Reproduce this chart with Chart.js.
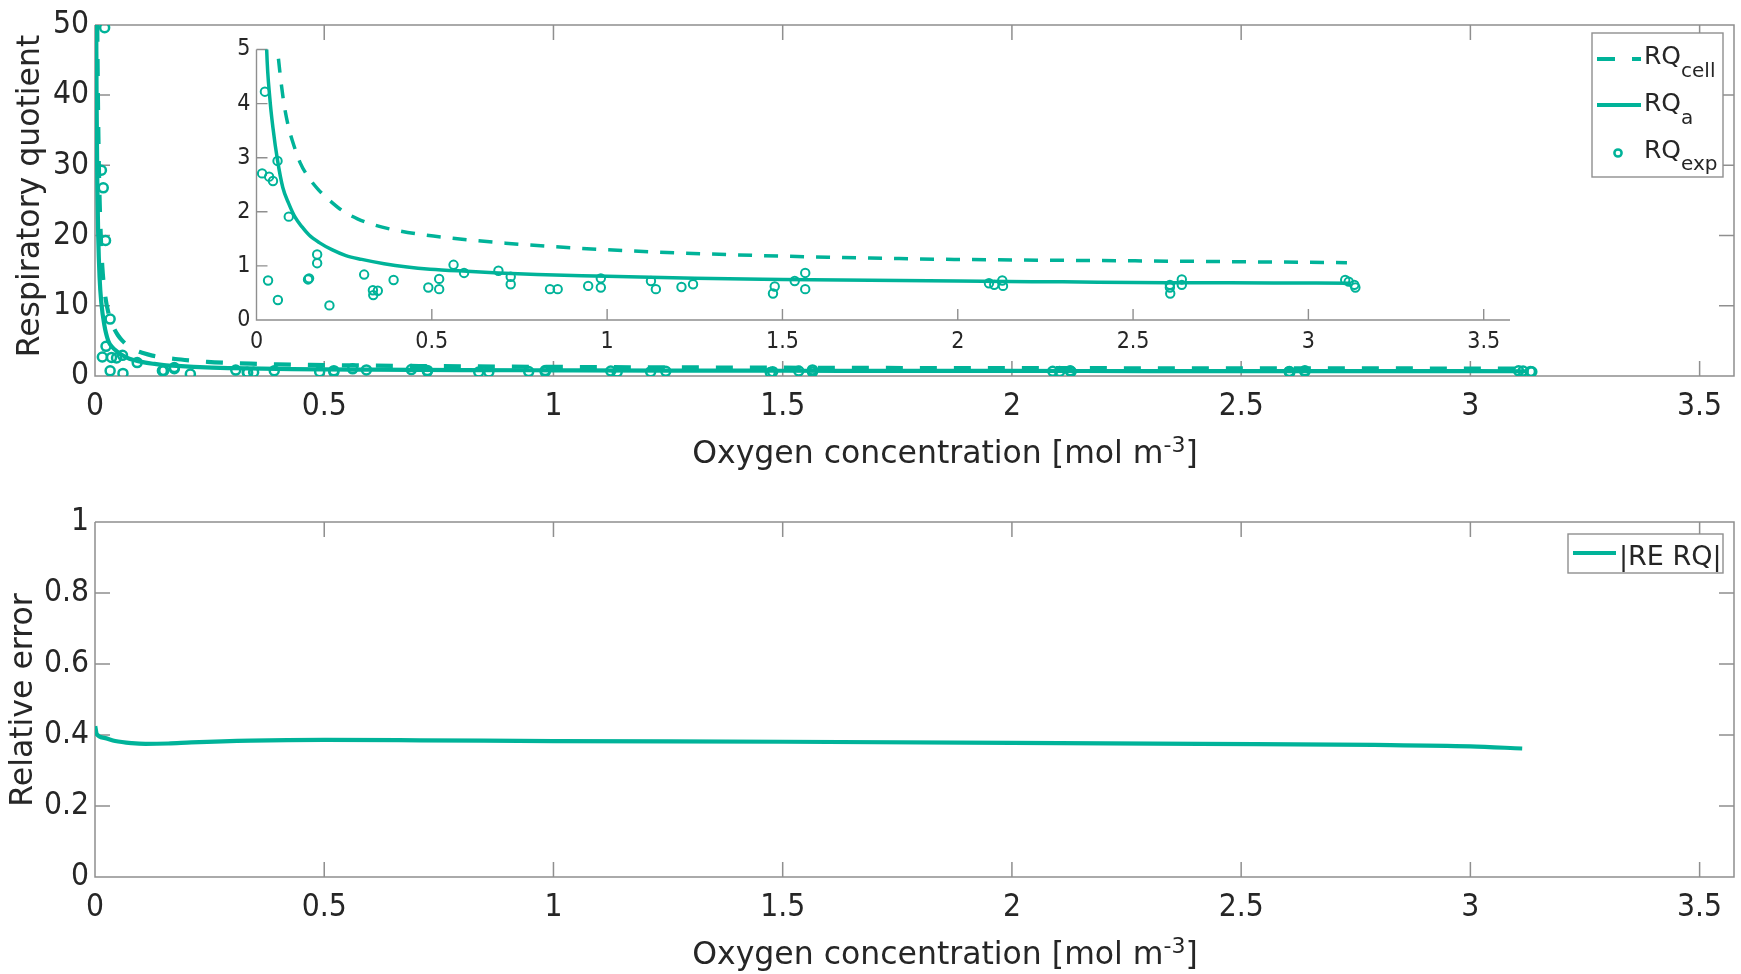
<!DOCTYPE html>
<html><head><meta charset="utf-8">
<script src="https://cdn.jsdelivr.net/npm/chart.js@4.4.1/dist/chart.umd.min.js"></script>
<style>
html,body{margin:0;padding:0;background:#fff;}
body{width:1741px;height:974px;position:relative;overflow:hidden;}
.box{position:absolute;}
</style></head><body>
<div class="box" style="left:0;top:0;width:1741px;height:484px"><canvas id="topChart"></canvas></div>
<div class="box" style="left:150px;top:20px;width:1400px;height:345px"><canvas id="insetChart"></canvas></div>
<div class="box" style="left:0;top:490px;width:1741px;height:484px"><canvas id="bottomChart"></canvas></div>
<script>
// ---------- data ----------
const xTickValues = [0, 0.5, 1, 1.5, 2, 2.5, 3, 3.5];
const topYTickValues = [0, 10, 20, 30, 40, 50];
const insetYTickValues = [0, 1, 2, 3, 4, 5];
const bottomYTickValues = [0, 0.2, 0.4, 0.6, 0.8, 1];

// RQ_cell (dashed model curve)
const rqCellX = [0.0049, 0.006, 0.007, 0.009, 0.012, 0.016, 0.022, 0.03, 0.04, 0.05, 0.06, 0.076, 0.09, 0.103, 0.125, 0.147, 0.175, 0.207, 0.245, 0.288, 0.34, 0.397, 0.47, 0.56, 0.71, 0.91, 1.125, 1.34, 1.63, 1.99, 2.37, 2.75, 3.11];
const rqCellY = [50, 42, 36, 28, 21, 15.5, 11.5, 8.8, 7.0, 5.8, 5.0, 4.1, 3.6, 3.3, 2.9, 2.65, 2.42, 2.22, 2.02, 1.87, 1.75, 1.66, 1.58, 1.51, 1.42, 1.33, 1.26, 1.21, 1.16, 1.12, 1.10, 1.08, 1.06];

// RQ_a (solid model curve)
const rqAX = [0.0027, 0.0035, 0.005, 0.007, 0.01, 0.014, 0.02, 0.029, 0.038, 0.047, 0.06, 0.075, 0.092, 0.11, 0.13, 0.15, 0.179, 0.215, 0.255, 0.3, 0.364, 0.43, 0.495, 0.6, 0.69, 0.8, 1.0, 1.25, 1.5, 1.75, 2.0, 2.3, 2.6, 2.9, 3.12];
const rqAY = [50, 39, 27.7, 20, 14, 10.3, 7.4, 5.0, 4.1, 3.55, 2.95, 2.45, 2.15, 1.9, 1.72, 1.57, 1.43, 1.3, 1.19, 1.12, 1.04, 0.98, 0.94, 0.9, 0.87, 0.84, 0.81, 0.77, 0.75, 0.735, 0.72, 0.705, 0.69, 0.685, 0.68];

// RQ_exp (measured points)
const rqExpX = [0.021, 0.014, 0.018, 0.023, 0.033, 0.024, 0.016, 0.036, 0.047, 0.060, 0.033, 0.061, 0.092, 0.147, 0.150, 0.173, 0.173, 0.208, 0.307, 0.332, 0.333, 0.346, 0.391, 0.490, 0.521, 0.521, 0.562, 0.592, 0.690, 0.725, 0.725, 0.837, 0.859, 0.946, 0.982, 0.982, 1.125, 1.139, 1.212, 1.245, 1.473, 1.478, 1.535, 1.565, 1.565, 2.089, 2.104, 2.127, 2.129, 2.605, 2.606, 2.605, 2.639, 2.639, 3.105, 3.115, 3.131, 3.134];
const rqExpY = [49.6, 29.3, 26.8, 19.3, 8.1, 4.22, 2.71, 2.65, 2.57, 2.94, 0.73, 0.37, 1.91, 0.75, 0.77, 1.21, 1.05, 0.27, 0.84, 0.55, 0.46, 0.54, 0.74, 0.60, 0.76, 0.57, 1.02, 0.87, 0.91, 0.80, 0.66, 0.57, 0.57, 0.63, 0.77, 0.60, 0.72, 0.57, 0.61, 0.66, 0.49, 0.62, 0.72, 0.87, 0.57, 0.68, 0.65, 0.73, 0.63, 0.65, 0.49, 0.60, 0.75, 0.65, 0.74, 0.71, 0.65, 0.60];

// |RE RQ| (relative error)
const reX = [0.0005, 0.004, 0.02, 0.044, 0.08, 0.11, 0.16, 0.21, 0.34, 0.5, 0.71, 1.0, 1.5, 2.0, 2.41, 2.79, 3.0, 3.113];
const reY = [0.425, 0.402, 0.392, 0.383, 0.377, 0.375, 0.376, 0.379, 0.384, 0.386, 0.385, 0.383, 0.381, 0.378, 0.375, 0.372, 0.368, 0.362];

// text
const xTitleMain = 'Oxygen concentration [mol m';
const xTitleSup = '-3';
const xTitleEnd = ']';
const topYTitle = 'Respiratory quotient';
const bottomYTitle = 'Relative error';
const topLegendLabels = [['RQ', 'cell'], ['RQ', 'a'], ['RQ', 'exp']];
const bottomLegendLabel = '|RE RQ|';

// ---------- styling ----------
const TEAL = '#00B399';
const AXC = '#8f8f8f';
const TXT = '#262626';
const FONT = "'DejaVu Sans', sans-serif";
const TICKFONT = "'DejaVu Sans Condensed', 'DejaVu Sans', sans-serif";

function pts(xs, ys) { return xs.map((x, i) => ({x: x, y: ys[i]})); }
function fmt(v) { return String(+(+v).toFixed(3)); }

function drawRich(ctx, spec) {
  ctx.save();
  ctx.fillStyle = spec.color || TXT;
  ctx.textBaseline = 'alphabetic';
  ctx.textAlign = 'left';
  let w = 0;
  const widths = spec.parts.map(p => {
    ctx.font = p.size + 'px ' + (spec.family || FONT);
    const m = ctx.measureText(p.t).width;
    w += m;
    return m;
  });
  ctx.translate(spec.x, spec.y);
  if (spec.rotate) ctx.rotate(-Math.PI / 2);
  let x = spec.align === 'center' ? -w / 2 : 0;
  spec.parts.forEach((p, i) => {
    ctx.font = p.size + 'px ' + (spec.family || FONT);
    ctx.fillText(p.t, x, p.dy || 0);
    x += widths[i];
  });
  ctx.restore();
}

function drawLegend(ctx, L) {
  ctx.save();
  ctx.fillStyle = '#fff';
  ctx.fillRect(L.x, L.y, L.w, L.h);
  ctx.strokeStyle = AXC;
  ctx.lineWidth = 1.4;
  ctx.strokeRect(L.x, L.y, L.w, L.h);
  L.items.forEach(it => {
    ctx.strokeStyle = TEAL;
    ctx.lineCap = 'butt';
    if (it.kind === 'line') {
      ctx.lineWidth = it.lw;
      ctx.setLineDash(it.dash || []);
      ctx.beginPath(); ctx.moveTo(it.x0, it.y); ctx.lineTo(it.x1, it.y); ctx.stroke();
      ctx.setLineDash([]);
    } else {
      ctx.lineWidth = 2.5;
      ctx.beginPath(); ctx.arc(it.cx, it.y, it.r, 0, Math.PI * 2); ctx.stroke();
    }
    drawRich(ctx, it.text);
  });
  ctx.restore();
}

function makeFrame(name, full, len, lw) {
  return {
    id: 'frame' + name,
    beforeDatasetsDraw(chart) {
      const ctx = chart.ctx, a = chart.chartArea, sx = chart.scales.x, sy = chart.scales.y;
      ctx.save();
      ctx.strokeStyle = AXC;
      ctx.lineWidth = lw;
      ctx.beginPath();
      ctx.moveTo(a.left, a.top); ctx.lineTo(a.left, a.bottom); ctx.lineTo(a.right, a.bottom);
      if (full) { ctx.lineTo(a.right, a.top); ctx.lineTo(a.left, a.top); }
      sx.ticks.forEach(t => {
        const p = sx.getPixelForValue(t.value);
        ctx.moveTo(p, a.bottom); ctx.lineTo(p, a.bottom - len);
        if (full) { ctx.moveTo(p, a.top); ctx.lineTo(p, a.top + len); }
      });
      sy.ticks.forEach(t => {
        const p = sy.getPixelForValue(t.value);
        ctx.moveTo(a.left, p); ctx.lineTo(a.left + len, p);
        if (full) { ctx.moveTo(a.right, p); ctx.lineTo(a.right - len, p); }
      });
      ctx.stroke();
      ctx.restore();
    }
  };
}

function makeDecor(name, draws) {
  return { id: 'decor' + name, afterDraw(chart) { draws(chart.ctx); } };
}

function axes(xmin, xmax, ymin, ymax, xTicks, yTicks, xH, yW, fontSize, xPad, yPad) {
  const tickFont = {family: TICKFONT, size: fontSize, lineHeight: 1.2};
  return {
    x: {
      type: 'linear', min: xmin, max: xmax, bounds: 'data',
      afterBuildTicks: s => { s.ticks = xTicks.map(v => ({value: v})); },
      afterFit: s => { s.height = xH; },
      grid: {display: false, drawTicks: false}, border: {display: false},
      ticks: {padding: xPad, font: tickFont, color: TXT, callback: fmt, autoSkip: false, maxRotation: 0}
    },
    y: {
      type: 'linear', min: ymin, max: ymax, bounds: 'data',
      afterBuildTicks: s => { s.ticks = yTicks.map(v => ({value: v})); },
      afterFit: s => { s.width = yW; },
      grid: {display: false, drawTicks: false}, border: {display: false},
      ticks: {padding: yPad, font: tickFont, color: TXT, callback: fmt, autoSkip: false}
    }
  };
}

function rqDatasets(dashMain, lw, r, rb) {
  return [
    {label: 'RQ_cell', data: pts(rqCellX, rqCellY), showLine: true, borderColor: TEAL, borderWidth: lw, borderDash: dashMain,
     pointRadius: 0, cubicInterpolationMode: 'monotone', fill: false, order: 2, borderCapStyle: 'butt'},
    {label: 'RQ_a', data: pts(rqAX, rqAY), showLine: true, borderColor: TEAL, borderWidth: lw,
     pointRadius: 0, cubicInterpolationMode: 'monotone', fill: false, order: 1},
    {label: 'RQ_exp', data: pts(rqExpX, rqExpY), showLine: false, borderColor: TEAL, backgroundColor: 'rgba(0,0,0,0)',
     pointBorderColor: TEAL, pointBackgroundColor: 'rgba(0,0,0,0)', pointRadius: r, pointBorderWidth: rb, pointStyle: 'circle', order: 0}
  ];
}

const common = {
  responsive: true, maintainAspectRatio: false, animation: false, devicePixelRatio: 1,
  plugins: {legend: {display: false}, tooltip: {enabled: false}}
};

function xTitle(ctx, cx, base) {
  drawRich(ctx, {x: cx, y: base, align: 'center', parts: [
    {t: xTitleMain, size: 31.5}, {t: xTitleSup, size: 22, dy: -11}, {t: xTitleEnd, size: 31.5}
  ]});
}

// ---------- top chart ----------
new Chart(document.getElementById('topChart'), {
  type: 'line',
  data: {datasets: rqDatasets([17, 17], 4.2, 4.5, 2.5)},
  options: Object.assign({}, common, {
    layout: {padding: {left: 0, top: 22, right: 7, bottom: 0}},
    scales: axes(0, 3.575, 0, 50, xTickValues, topYTickValues, 108, 95, 31.5, 12, 6)
  }),
  plugins: [makeFrame('top', true, 15, 1.5), makeDecor('top', ctx => {
    xTitle(ctx, 945, 463);
    drawRich(ctx, {x: 39, y: 196, rotate: true, align: 'center', parts: [{t: topYTitle, size: 31.5}]});
    drawLegend(ctx, {x: 1592, y: 33, w: 131, h: 144, items: [
      {kind: 'line', x0: 1597, x1: 1641, y: 59, lw: 4, dash: [18, 17],
       text: {x: 1644, y: 63.5, parts: [{t: topLegendLabels[0][0], size: 25}, {t: topLegendLabels[0][1], size: 20, dy: 13.5}]}},
      {kind: 'line', x0: 1597, x1: 1641, y: 105, lw: 4,
       text: {x: 1644, y: 110.7, parts: [{t: topLegendLabels[1][0], size: 25}, {t: topLegendLabels[1][1], size: 20, dy: 13}]}},
      {kind: 'circle', cx: 1618, y: 153, r: 3.6,
       text: {x: 1644, y: 158.3, parts: [{t: topLegendLabels[2][0], size: 25}, {t: topLegendLabels[2][1], size: 20, dy: 12}]}}
    ]});
  })]
});

// ---------- inset chart ----------
new Chart(document.getElementById('insetChart'), {
  type: 'line',
  data: {datasets: rqDatasets([14, 12], 3.5, 4.2, 2)},
  options: Object.assign({}, common, {
    layout: {padding: {left: 0, top: 29.5, right: 40, bottom: 0}},
    scales: axes(0, 3.575, 0, 5, xTickValues, insetYTickValues, 45, 106.5, 23, 8, 6)
  }),
  plugins: [makeFrame('inset', false, 11, 1.4)]
});

// ---------- bottom chart ----------
new Chart(document.getElementById('bottomChart'), {
  type: 'line',
  data: {datasets: [
    {label: '|RE RQ|', data: pts(reX, reY), showLine: true, borderColor: TEAL, borderWidth: 4.2,
     pointRadius: 0, cubicInterpolationMode: 'monotone', fill: false}
  ]},
  options: Object.assign({}, common, {
    layout: {padding: {left: 0, top: 32, right: 7, bottom: 0}},
    scales: axes(0, 3.575, 0, 1, xTickValues, bottomYTickValues, 97, 95, 31.5, 12, 6)
  }),
  plugins: [makeFrame('bottom', true, 15, 1.5), makeDecor('bottom', ctx => {
    xTitle(ctx, 945, 474);
    drawRich(ctx, {x: 32, y: 210, rotate: true, align: 'center', parts: [{t: bottomYTitle, size: 31.5}]});
    drawLegend(ctx, {x: 1568, y: 44, w: 155, h: 39, items: [
      {kind: 'line', x0: 1573, x1: 1616, y: 63, lw: 4,
       text: {x: 1619, y: 75, parts: [{t: bottomLegendLabel, size: 27}]}}
    ]});
  })]
});
</script>
</body></html>
